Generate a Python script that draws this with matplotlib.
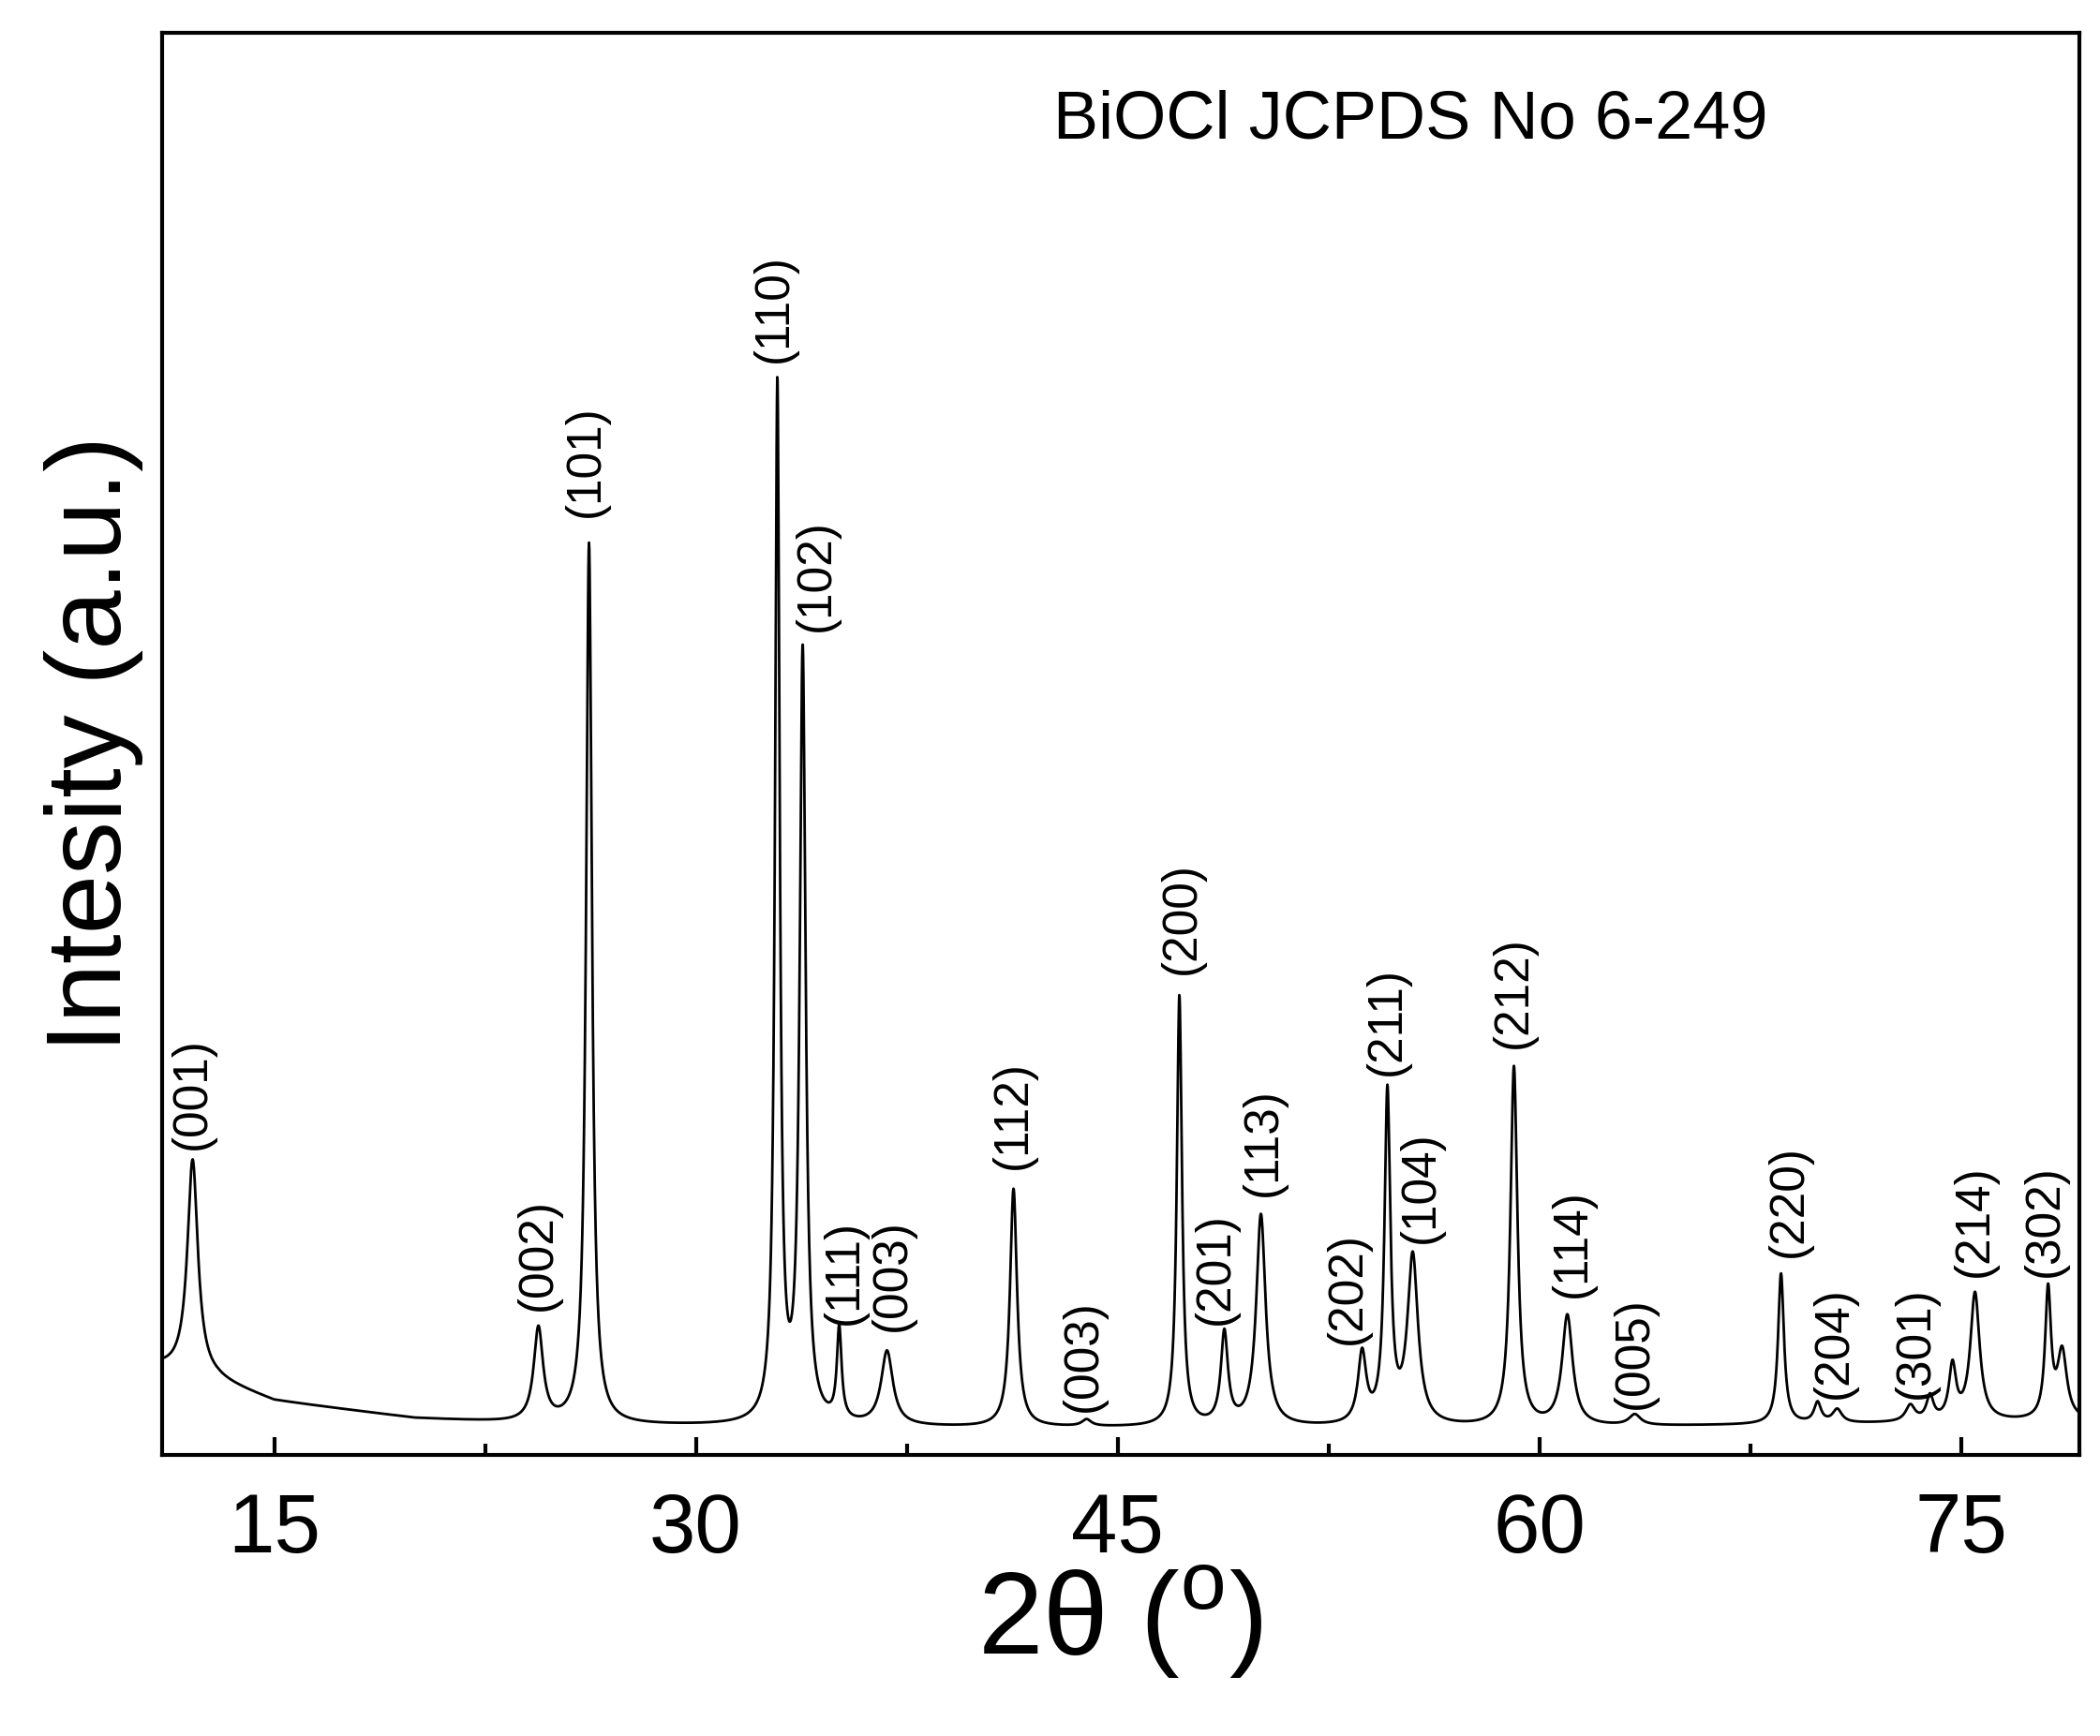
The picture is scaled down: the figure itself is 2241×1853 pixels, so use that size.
import numpy as np
import matplotlib.pyplot as plt

plt.rcParams['font.family'] = ['Liberation Sans', 'DejaVu Sans']

# peak positions (2theta), heights above background, widths (FWHM, deg)
peak_pos = [12.1, 24.4, 26.2, 32.9, 33.8, 35.1, 36.8, 41.3, 43.9, 47.2, 48.8, 50.1,
            53.7, 54.6, 55.5, 59.1, 61.0, 63.4, 68.6, 69.9, 70.6, 73.2, 73.9, 74.7,
            75.5, 78.1, 78.6]
peak_h = [160, 70, 655, 770, 572, 68, 55, 177, 5, 320, 68, 157,
          52, 245, 125, 267, 82, 8, 112, 15, 10, 12, 18, 40,
          95, 95, 50]
peak_w = [0.45, 0.4, 0.25, 0.2, 0.25, 0.2, 0.5, 0.3, 0.4, 0.22, 0.3, 0.4,
          0.35, 0.25, 0.45, 0.3, 0.45, 0.5, 0.25, 0.3, 0.4, 0.4, 0.3, 0.3,
          0.4, 0.25, 0.4]

# background level read at a few angles
bg_x = [11.0, 13.0, 15.0, 20.0, 25.0, 40.0, 60.0, 79.2]
bg_y = [65, 55, 40, 27, 22, 20, 20, 25]

labels = ['(001)', '(002)', '(101)', '(110)', '(102)', '(111)', '(003)', '(112)',
          '(003)', '(200)', '(201)', '(113)', '(202)', '(211)', '(104)', '(212)',
          '(114)', '(005)', '(220)', '(204)', '(301)', '(214)', '(302)']
label_x = [12.1, 24.4, 26.1, 32.8, 34.3, 35.3, 37.0, 41.3, 43.8, 47.3, 48.5, 50.2,
           53.2, 54.6, 55.8, 59.1, 61.2, 63.4, 68.9, 70.5, 73.4, 75.5, 78.0]
label_y = [227, 107, 697, 812, 612, 97, 92, 212, 32, 357, 97, 192,
           82, 282, 157, 302, 117, 34, 147, 42, 42, 132, 132]

x = np.linspace(11.0, 79.2, 6000)
y = np.interp(x, bg_x, bg_y)
for p, h, w in zip(peak_pos, peak_h, peak_w):
    y = y + h / (1 + ((x - p) / (w / 2)) ** 2)

fig = plt.figure(figsize=(22.41, 18.53), dpi=100)
ax = fig.add_axes([0.077, 0.162, 0.913, 0.819])
ax.plot(x, y, color='black', lw=2)
ax.set_xlim(11.0, 79.2)
ax.set_ylim(0, 1057)
ax.set_yticks([])
ax.set_xticks([15, 30, 45, 60, 75])
ax.set_xticks([22.5, 37.5, 52.5, 67.5], minor=True)
ax.tick_params(axis='x', which='major', direction='in', length=14, width=3, labelsize=64, pad=28)
ax.tick_params(axis='x', which='minor', direction='in', length=9, width=3)
for s in ax.spines.values():
    s.set_linewidth(3)

for lx, ly, t in zip(label_x, label_y, labels):
    ax.text(lx, ly, t, rotation=90, ha='center', va='bottom', fontsize=37)

ax.text(0.465, 0.96, 'BiOCl JCPDS No 6-249', transform=ax.transAxes, fontsize=52, va='top')
ax.set_xlabel('2θ ($^\\mathregular{o}$)', fontsize=90, labelpad=-5)
ax.set_ylabel('Intesity (a.u.)', fontsize=82, labelpad=14)

fig.savefig('out.png')
